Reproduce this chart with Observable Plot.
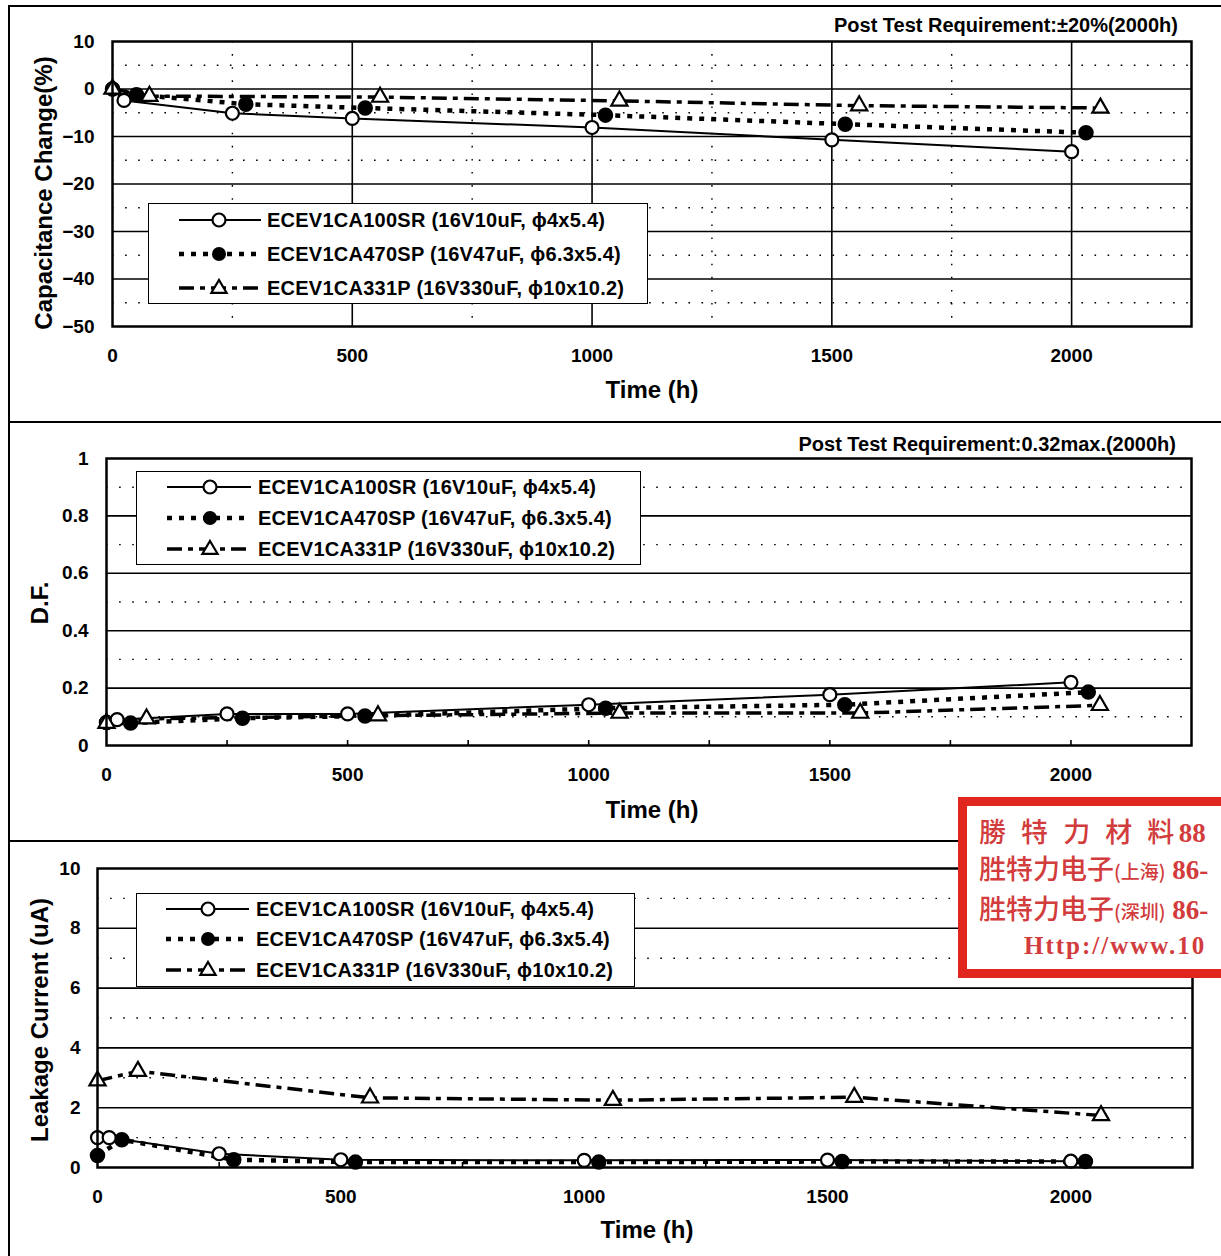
<!DOCTYPE html>
<html>
<head>
<meta charset="utf-8">
<script src="https://cdn.jsdelivr.net/npm/d3@7"></script>
<script src="https://cdn.jsdelivr.net/npm/@observablehq/plot@0.6"></script>
<style>
  html, body { margin: 0; padding: 0; background: #fff; }
  #page { position: relative; width: 1221px; height: 1256px; overflow: hidden; background: #fff;
          font-family: 'Liberation Sans', Arial, sans-serif; color: #000; }
  .box { position: absolute; border: 2px solid #000; box-sizing: border-box; }
  .abs { position: absolute; white-space: nowrap; }
  .plot { position: absolute; left: 0; }
  .ctr { transform: translate(-50%, -50%); }
  .rot { transform: translate(-50%, -50%) rotate(-90deg); }
  .ylab, .xlab { font-weight: bold; font-size: 24px; }
  .req { font-size: 20px; font-weight: bold; transform: translateY(-50%); }
  .stamp { position: absolute; left: 958px; top: 797px; width: 320px; height: 181px; box-sizing: border-box;
           border: 9px solid #e1251f; background: #fff; color: #d23c3c;
           font-family: 'Liberation Serif', 'Noto Sans CJK TC', serif; }
  .stamp .ln { position: absolute; white-space: nowrap; transform: translateY(-50%); font-size: 27px; }
  .stamp .cjk { font-family: 'Noto Sans CJK TC', sans-serif; font-weight: 500; }
  .stamp .num { font-weight: bold; }
  .stamp small { font-size: 19px; }
</style>
</head>
<body>
<div id="page"></div>
<script>
// ---------- data ----------
const seriesLabels = [
  "ECEV1CA100SR (16V10uF, \u03d54x5.4)",
  "ECEV1CA470SP (16V47uF, \u03d56.3x5.4)",
  "ECEV1CA331P (16V330uF, \u03d510x10.2)"
];

// Capacitance change (%)
const capHoursA = [0, 24, 250, 500, 1000, 1500, 2000];
const capValuesA = [0, -2.4, -5.1, -6.2, -8.1, -10.7, -13.2];
const capHoursB = [0, 50, 278, 527, 1028, 1528, 2030];
const capValuesB = [0, -1.2, -3.2, -4.0, -5.5, -7.4, -9.2];
const capHoursC = [0, 77, 558, 1057, 1557, 2060];
const capValuesC = [0, -1.5, -1.7, -2.5, -3.5, -4.0];

// Dissipation factor
const dfHoursA = [0, 22, 250, 500, 1000, 1500, 2000];
const dfValuesA = [0.08, 0.09, 0.11, 0.11, 0.142, 0.177, 0.22];
const dfHoursB = [0, 50, 282, 536, 1035, 1531, 2036];
const dfValuesB = [0.08, 0.078, 0.095, 0.103, 0.13, 0.142, 0.186];
const dfHoursC = [0, 83, 563, 1064, 1563, 2060];
const dfValuesC = [0.078, 0.093, 0.104, 0.113, 0.113, 0.14];

// Leakage current (uA)
const lcHoursA = [0, 24, 250, 500, 1000, 1500, 2000];
const lcValuesA = [1.0, 1.0, 0.46, 0.26, 0.24, 0.25, 0.21];
const lcHoursB = [0, 50, 280, 530, 1030, 1530, 2030];
const lcValuesB = [0.4, 0.93, 0.26, 0.18, 0.18, 0.2, 0.2];
const lcHoursC = [0, 83, 560, 1059, 1555, 2062];
const lcValuesC = [2.9, 3.22, 2.33, 2.25, 2.35, 1.74];

// ticks / grid values
const hourTicks = [0, 500, 1000, 1500, 2000];
const hourGridMajor = [500, 1000, 1500, 2000];
const hourGridMinor = [250, 750, 1250, 1750];
const hourInnerTicks = [250, 500, 750, 1000, 1250, 1500, 1750, 2000];
const capTicks = [10, 0, -10, -20, -30, -40, -50];
const capGridMajor = [0, -10, -20, -30, -40];
const capGridMinor = [5, -5, -15, -25, -35, -45];
const dfTicks = [0, 0.2, 0.4, 0.6, 0.8, 1];
const dfGridMajor = [0.2, 0.4, 0.6, 0.8];
const dfGridMinor = [0.1, 0.3, 0.5, 0.7, 0.9];
const lcTicks = [0, 2, 4, 6, 8, 10];
const lcGridMajor = [2, 4, 6, 8];
const lcGridMinor = [1, 3, 5, 7, 9];

// ---------- helpers ----------
const page = document.getElementById("page");
const FONT = "'Liberation Sans', Arial, sans-serif";
const rows = (hours, values) => hours.map((h, i) => ({h, v: values[i]}));
const minusFmt = d => d < 0 ? "\u2212" + Math.abs(d) : String(d);
const DASH_B = "5,7";
const DASH_C = "15,6,5,6";

function el(tag, cls, html, style) {
  const e = document.createElement(tag);
  if (cls) e.className = cls;
  if (html != null) e.innerHTML = html;
  if (style) Object.assign(e.style, style);
  page.appendChild(e);
  return e;
}

function panel(cfg) {
  const innerH = cfg.height - cfg.mt - cfg.mb;
  const A = rows(cfg.hA, cfg.vA), B = rows(cfg.hB, cfg.vB), C = rows(cfg.hC, cfg.vC);
  const marks = [
    Plot.ruleY(cfg.minorY, {stroke: "#000", strokeWidth: 1.4, strokeDasharray: "1.6,11.5"}),
    Plot.ruleY(cfg.majorY, {stroke: "#000", strokeWidth: 1.6})
  ];
  if (cfg.gridX) {
    marks.push(Plot.ruleX(hourGridMinor, {stroke: "#000", strokeWidth: 1.4, strokeDasharray: "1.6,11.5"}));
    marks.push(Plot.ruleX(hourGridMajor, {stroke: "#000", strokeWidth: 1.6}));
  } else {
    marks.push(Plot.tickX(hourInnerTicks, {x: d => d, stroke: "#000", strokeWidth: 1.6, insetTop: innerH - 5}));
  }
  marks.push(
    Plot.line(C, {x: "h", y: "v", stroke: "#000", strokeWidth: 3.5, strokeDasharray: DASH_C, strokeLinecap: "butt"}),
    Plot.line(B, {x: "h", y: "v", stroke: "#000", strokeWidth: 4.5, strokeDasharray: DASH_B, strokeLinecap: "butt"}),
    Plot.line(A, {x: "h", y: "v", stroke: "#000", strokeWidth: 2}),
    Plot.dot(B, {x: "h", y: "v", r: 7, fill: "#000", stroke: "#000"}),
    Plot.dot(A, {x: "h", y: "v", r: 6.5, fill: "#fff", stroke: "#000", strokeWidth: 2.2}),
    Plot.dot(C, {x: "h", y: "v", r: 6, symbol: "triangle", fill: "#fff", stroke: "#000", strokeWidth: 2.2}),
    Plot.frame({stroke: "#000", strokeWidth: 2.5})
  );
  const svg = Plot.plot({
    width: 1221, height: cfg.height,
    marginLeft: cfg.ml, marginRight: cfg.mr, marginTop: cfg.mt, marginBottom: cfg.mb,
    x: {domain: [0, 2250], ticks: hourTicks, tickSize: 0, tickPadding: 22, tickFormat: d => String(d), label: null},
    y: {domain: cfg.yDomain, ticks: cfg.yTicks, tickSize: 0, tickPadding: cfg.padY, tickFormat: cfg.fmt, label: null},
    style: {fontFamily: FONT, fontSize: "19px", fontWeight: "bold", color: "#000", background: "transparent", overflow: "visible"},
    marks
  });
  svg.classList.add("plot");
  svg.style.top = cfg.top + "px";
  page.appendChild(svg);
}

function legend(cfg) {
  const ns = "http://www.w3.org/2000/svg";
  const svg = document.createElementNS(ns, "svg");
  svg.setAttribute("width", cfg.w);
  svg.setAttribute("height", cfg.h);
  Object.assign(svg.style, {position: "absolute", left: cfg.left + "px", top: cfg.top + "px", background: "#fff",
    border: "1.5px solid #000", boxSizing: "border-box", overflow: "visible"});
  const add = (tag, attrs, text) => {
    const n = document.createElementNS(ns, tag);
    for (const k in attrs) n.setAttribute(k, attrs[k]);
    if (text != null) n.textContent = text;
    svg.appendChild(n);
    return n;
  };
  const styles = [
    {sw: 2, dash: null},
    {sw: 4.5, dash: DASH_B},
    {sw: 3.5, dash: DASH_C}
  ];
  cfg.rowsY.forEach((y, i) => {
    const s = styles[i];
    const line = {x1: cfg.x0, x2: cfg.x1, y1: y, y2: y, stroke: "#000", "stroke-width": s.sw};
    if (s.dash) line["stroke-dasharray"] = s.dash;
    add("line", line);
    const mx = cfg.mx;
    if (i === 0) add("circle", {cx: mx, cy: y, r: 6.5, fill: "#fff", stroke: "#000", "stroke-width": 2.2});
    if (i === 1) add("circle", {cx: mx, cy: y, r: 7, fill: "#000"});
    if (i === 2) {
      const r = 8;
      add("path", {d: `M${mx},${y - r}L${mx + r * 0.95},${y + r * 0.6}L${mx - r * 0.95},${y + r * 0.6}Z`, fill: "#fff", stroke: "#000", "stroke-width": 2.2});
    }
    add("text", {x: cfg.tx, y: y, dy: "0.36em", "font-family": FONT, "font-size": 20, "letter-spacing": 0.25, "font-weight": "bold", fill: "#000"}, seriesLabels[i]);
  });
  page.appendChild(svg);
}

// ---------- panel frames ----------
el("div", "box", null, {left: "8px", top: "5px", width: "1240px", height: "418px"});
el("div", "box", null, {left: "8px", top: "421px", width: "1240px", height: "421px"});
el("div", "box", null, {left: "8px", top: "840px", width: "1240px", height: "440px"});

// ---------- panel 1 ----------
panel({top: 0, height: 421, ml: 112, mr: 30, mt: 41, mb: 95, yDomain: [-50, 10], yTicks: capTicks,
  majorY: capGridMajor, minorY: capGridMinor, gridX: true, padY: 18, fmt: minusFmt,
  hA: capHoursA, vA: capValuesA, hB: capHoursB, vB: capValuesB, hC: capHoursC, vC: capValuesC});
el("div", "abs req", "Post Test Requirement:\u00b120%(2000h)", {right: "43px", top: "25px"});
el("div", "abs ylab rot", "Capacitance Change(%)", {left: "44px", top: "193px"});
el("div", "abs xlab ctr", "Time (h)", {left: "652px", top: "390px"});
legend({left: 148, top: 203, w: 500, h: 101, rowsY: [16, 50, 84], x0: 30, x1: 112, mx: 70, tx: 118});

// ---------- panel 2 ----------
panel({top: 421, height: 419, ml: 106, mr: 30, mt: 37, mb: 95, yDomain: [0, 1], yTicks: dfTicks,
  majorY: dfGridMajor, minorY: dfGridMinor, gridX: false, padY: 18, fmt: d => String(d),
  hA: dfHoursA, vA: dfValuesA, hB: dfHoursB, vB: dfValuesB, hC: dfHoursC, vC: dfValuesC});
el("div", "abs req", "Post Test Requirement:0.32max.(2000h)", {right: "45px", top: "444px"});
el("div", "abs ylab rot", "D.F.", {left: "40px", top: "603px"});
el("div", "abs xlab ctr", "Time (h)", {left: "652px", top: "810px"});
legend({left: 136, top: 471, w: 505, h: 94, rowsY: [15, 46, 77], x0: 30, x1: 114, mx: 73, tx: 121});

// ---------- panel 3 ----------
panel({top: 840, height: 416, ml: 97, mr: 29, mt: 28, mb: 89, yDomain: [0, 10], yTicks: lcTicks,
  majorY: lcGridMajor, minorY: lcGridMinor, gridX: false, padY: 17, fmt: d => String(d),
  hA: lcHoursA, vA: lcValuesA, hB: lcHoursB, vB: lcValuesB, hC: lcHoursC, vC: lcValuesC});
el("div", "abs ylab rot", "Leakage Current (uA)", {left: "40px", top: "1020px"});
el("div", "abs xlab ctr", "Time (h)", {left: "647px", top: "1230px"});
legend({left: 136, top: 893, w: 499, h: 94, rowsY: [15, 45, 76], x0: 29, x1: 112, mx: 71, tx: 119});

// ---------- distributor stamp (cut by the picture's right edge, as in the source) ----------
const stamp = el("div", "stamp", null);
stamp.innerHTML =
  '<div class="ln" style="left:12px;top:24px"><span class="cjk" style="letter-spacing:4.5px">勝 特 力 材 料</span><span class="num">88</span></div>' +
  '<div class="ln" style="left:12px;top:61px"><span class="cjk">胜特力电子<small>(上海)</small></span> <span class="num">86-</span></div>' +
  '<div class="ln" style="left:12px;top:101px"><span class="cjk">胜特力电子<small>(深圳)</small></span> <span class="num">86-</span></div>' +
  '<div class="ln num" style="left:57px;top:140px;font-size:25px;letter-spacing:2px">Http://www.10</div>';
</script>
</body>
</html>
